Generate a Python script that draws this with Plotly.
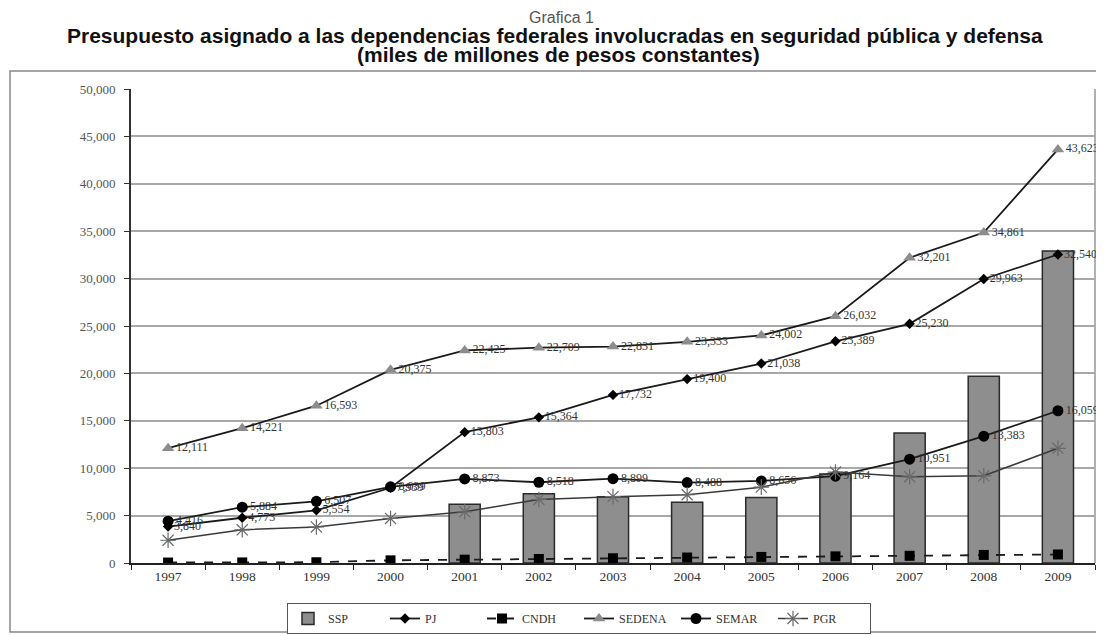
import plotly.graph_objects as go

years = ["1997", "1998", "1999", "2000", "2001", "2002", "2003", "2004", "2005", "2006", "2007", "2008", "2009"]
ssp = [None, None, None, None, 6200, 7300, 7000, 6400, 6900, 9400, 13700, 19700, 32900]
pj = [3840, 4773, 5554, 7939, 13803, 15364, 17732, 19400, 21038, 23389, 25230, 29963, 32540]
cndh = [50, 60, 80, 280, 350, 420, 500, 580, 640, 700, 760, 850, 900]
sedena = [12111, 14221, 16593, 20375, 22425, 22709, 22831, 23333, 24002, 26032, 32201, 34861, 43623]
semar = [4416, 5884, 6507, 8039, 8873, 8518, 8899, 8488, 8656, 9164, 10951, 13383, 16059]
pgr = [2400, 3500, 3800, 4700, 5400, 6700, 7000, 7200, 8000, 9600, 9100, 9200, 12100]

def fmt(v):
    return f"{v:,}"

label_font = dict(family="Liberation Serif", size=12, color="#333333")

fig = go.Figure()
fig.add_trace(go.Bar(
    x=years, y=ssp, name="SSP", width=0.42,
    marker=dict(color="#8e8e8e", line=dict(color="#2a2a2a", width=1.5)),
))
fig.add_trace(go.Scatter(
    x=years, y=pj, name="PJ", mode="lines+markers+text", cliponaxis=False,
    text=[fmt(v) for v in pj], textposition="middle right", textfont=label_font,
    line=dict(color="#1a1a1a", width=1.8),
    marker=dict(symbol="diamond", size=8, color="#000000"),
))
fig.add_trace(go.Scatter(
    x=years, y=cndh, name="CNDH", mode="lines+markers",
    line=dict(color="#1a1a1a", width=1.8, dash="dash"),
    marker=dict(symbol="square", size=10, color="#000000"),
))
fig.add_trace(go.Scatter(
    x=years, y=sedena, name="SEDENA", mode="lines+markers+text", cliponaxis=False,
    text=[fmt(v) for v in sedena], textposition="middle right", textfont=label_font,
    line=dict(color="#1a1a1a", width=1.8),
    marker=dict(symbol="triangle-up", size=11, color="#8c8c8c"),
))
fig.add_trace(go.Scatter(
    x=years, y=semar, name="SEMAR", mode="lines+markers+text", cliponaxis=False,
    text=[fmt(v) for v in semar], textposition="middle right", textfont=label_font,
    line=dict(color="#1a1a1a", width=1.8),
    marker=dict(symbol="circle", size=11, color="#000000"),
))
fig.add_trace(go.Scatter(
    x=years, y=pgr, name="PGR", mode="lines+markers",
    line=dict(color="#3a3a3a", width=1.5),
    marker=dict(symbol="asterisk-open", size=13, color="#6a6a6a", line=dict(color="#6a6a6a", width=1.2)),
))

# page is offset by the 8px body margin; work in page pixels and convert
OFF = 8
W, H = 1104 - OFF, 635 - OFF
L, R, T, B = 131 - OFF, 1095 - OFF, 89 - OFF, 563 - OFF
pw, ph = R - L, B - T

def px(x):
    return (x - OFF - L) / pw

def py(y):
    return (B - (y - OFF)) / ph

fig.update_layout(
    width=W, height=H,
    margin=dict(l=L, r=W - R, t=T, b=H - B, autoexpand=False),
    paper_bgcolor="white", plot_bgcolor="white",
    showlegend=True,
    legend=dict(
        orientation="h", x=px(287), y=py(603), xanchor="left", yanchor="top",
        bordercolor="#555555", borderwidth=1,
        font=dict(family="Liberation Serif", size=12, color="#333333"),
        entrywidth=52, entrywidthmode="pixels", tracegroupgap=0,
    ),
    xaxis=dict(
        type="category", showgrid=False, showline=True, linecolor="#222222", linewidth=1.5,
        ticks="outside", tickson="boundaries", ticklen=5, tickcolor="#222222",
        tickfont=dict(family="Liberation Serif", size=13.5, color="#333333"),
        range=[-0.5, 12.5],
    ),
    yaxis=dict(
        range=[0, 50000], dtick=5000, tickformat=",",
        showgrid=True, gridcolor="#a8a8a8", gridwidth=1.8,
        showline=True, linecolor="#333333", linewidth=2,
        ticks="outside", ticklen=5, tickcolor="#333333", ticklabelstandoff=6,
        tickfont=dict(family="Liberation Serif", size=13, color="#555555"),
        zeroline=False,
    ),
    shapes=[
        dict(type="rect", xref="paper", yref="paper", x0=px(10), x1=px(1102), y0=py(632), y1=py(71),
             line=dict(color="#888888", width=1.5), layer="below"),
        dict(type="line", xref="paper", yref="paper", x0=1, x1=1, y0=0, y1=1,
             line=dict(color="#a8a8a8", width=1.8), layer="below"),
    ],
    annotations=[
        dict(text="Grafica 1", xref="paper", yref="paper", x=px(561), y=py(17), showarrow=False,
             font=dict(family="Liberation Sans", size=16, color="#555555"), xanchor="center", yanchor="middle"),
        dict(text="<b>Presupuesto asignado a las dependencias federales involucradas en seguridad pública y defensa</b>",
             xref="paper", yref="paper", x=px(555), y=py(35), showarrow=False,
             font=dict(family="Liberation Sans", size=21, color="#111111"), xanchor="center", yanchor="middle"),
        dict(text="<b>(miles de millones de pesos constantes)</b>",
             xref="paper", yref="paper", x=px(558), y=py(55), showarrow=False,
             font=dict(family="Liberation Sans", size=21, color="#111111"), xanchor="center", yanchor="middle"),
    ],
)

fig.write_html("out.html")
